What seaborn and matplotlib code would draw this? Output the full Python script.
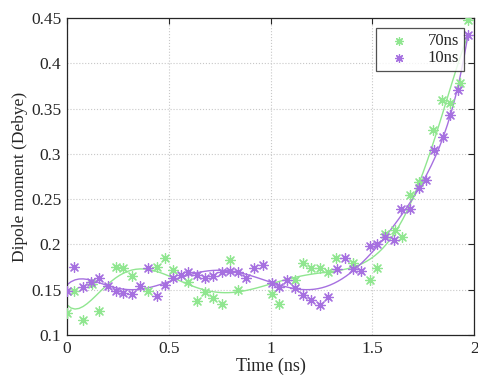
import matplotlib
matplotlib.use('Agg')
import matplotlib.pyplot as plt
import numpy as np
import pandas as pd
import seaborn as sns

# 70ns run
t_70 = [0.0, 0.035, 0.077, 0.121, 0.159, 0.241, 0.277, 0.318, 0.40, 0.44, 0.481,
        0.519, 0.596, 0.637, 0.678, 0.719, 0.76, 0.801, 0.842, 1.005, 1.04, 1.12,
        1.158, 1.199, 1.243, 1.284, 1.322, 1.404, 1.486, 1.522, 1.563, 1.609, 1.645,
        1.686, 1.727, 1.80, 1.841, 1.882, 1.928, 1.968]
d_70 = [0.124, 0.149, 0.116, 0.156, 0.126, 0.175, 0.174, 0.165, 0.149, 0.175, 0.185,
        0.172, 0.158, 0.137, 0.147, 0.141, 0.134, 0.183, 0.150, 0.145, 0.134, 0.161,
        0.180, 0.174, 0.174, 0.169, 0.185, 0.179, 0.161, 0.174, 0.212, 0.216, 0.208,
        0.255, 0.269, 0.326, 0.359, 0.356, 0.378, 0.448]

# 10ns run
t_10 = [0.0, 0.035, 0.077, 0.118, 0.159, 0.20, 0.241, 0.277, 0.318, 0.359, 0.40,
        0.441, 0.482, 0.519, 0.558, 0.596, 0.637, 0.678, 0.719, 0.76, 0.801, 0.842,
        0.88, 0.919, 0.961, 1.005, 1.04, 1.083, 1.119, 1.157, 1.199, 1.243, 1.284,
        1.325, 1.366, 1.404, 1.445, 1.486, 1.522, 1.563, 1.604, 1.641, 1.686, 1.727,
        1.763, 1.804, 1.845, 1.882, 1.923, 1.968]
d_10 = [0.149, 0.175, 0.153, 0.159, 0.163, 0.154, 0.148, 0.146, 0.145, 0.154, 0.174,
        0.143, 0.155, 0.163, 0.166, 0.169, 0.166, 0.163, 0.165, 0.169, 0.171, 0.169,
        0.163, 0.174, 0.177, 0.157, 0.153, 0.161, 0.152, 0.144, 0.139, 0.133, 0.142,
        0.173, 0.185, 0.173, 0.171, 0.198, 0.200, 0.208, 0.205, 0.239, 0.239, 0.262,
        0.271, 0.304, 0.319, 0.343, 0.371, 0.431]

green = '#90e690'
purple = '#a670e0'

sns.set_style('white')
plt.rcParams['font.family'] = ['Liberation Serif', 'DejaVu Serif']

df70 = pd.DataFrame({'t': t_70, 'd': d_70})
df10 = pd.DataFrame({'t': t_10, 'd': d_10})

fig = plt.figure(figsize=(4.78, 3.85), dpi=100)
ax = fig.add_axes([0.140, 0.130, 0.852, 0.823])

star = (8, 2, 0)
sns.scatterplot(data=df70, x='t', y='d', ax=ax, marker=star, s=50,
                edgecolor=green, color=green, linewidth=0.9, label='70ns', zorder=3)
sns.scatterplot(data=df10, x='t', y='d', ax=ax, marker=star, s=50,
                edgecolor=purple, color=purple, linewidth=0.9, label='10ns', zorder=3)

# smooth polynomial fits through each series
sns.regplot(data=df70, x='t', y='d', ax=ax, order=8, ci=None, scatter=False,
            truncate=True, line_kws={'color': green, 'lw': 1.0})
sns.regplot(data=df10, x='t', y='d', ax=ax, order=8, ci=None, scatter=False,
            truncate=True, line_kws={'color': purple, 'lw': 1.0})

ax.set_xlim(0, 2)
ax.set_ylim(0.1, 0.45)
ax.set_xticks([0, 0.5, 1, 1.5, 2])
ax.set_xticklabels(['0', '0.5', '1', '1.5', '2'])
ax.set_yticks(np.arange(0.1, 0.451, 0.05))
ax.set_yticklabels(['0.1', '0.15', '0.2', '0.25', '0.3', '0.35', '0.4', '0.45'])
ax.set_xlabel('Time (ns)', fontsize=13, labelpad=1)
ax.set_ylabel('Dipole moment (Debye)', fontsize=12.5, labelpad=2)
ax.tick_params(axis='both', labelsize=12.5, direction='in', length=4, width=0.8,
               top=True, right=True, colors='#262626', pad=4)
ax.grid(True, linestyle=':', color='#c8c8c8', linewidth=0.8)
for sp in ax.spines.values():
    sp.set_color('#262626')
    sp.set_linewidth(0.9)

leg = ax.legend(loc='upper right', fontsize=12, frameon=True, fancybox=False,
                handletextpad=0.6, borderpad=0.3, labelspacing=0.05,
                markerscale=0.8, borderaxespad=0.6, handlelength=2.2)
leg.get_frame().set_edgecolor('#262626')
leg.get_frame().set_linewidth(0.9)

fig.savefig('out.png', dpi=100)
